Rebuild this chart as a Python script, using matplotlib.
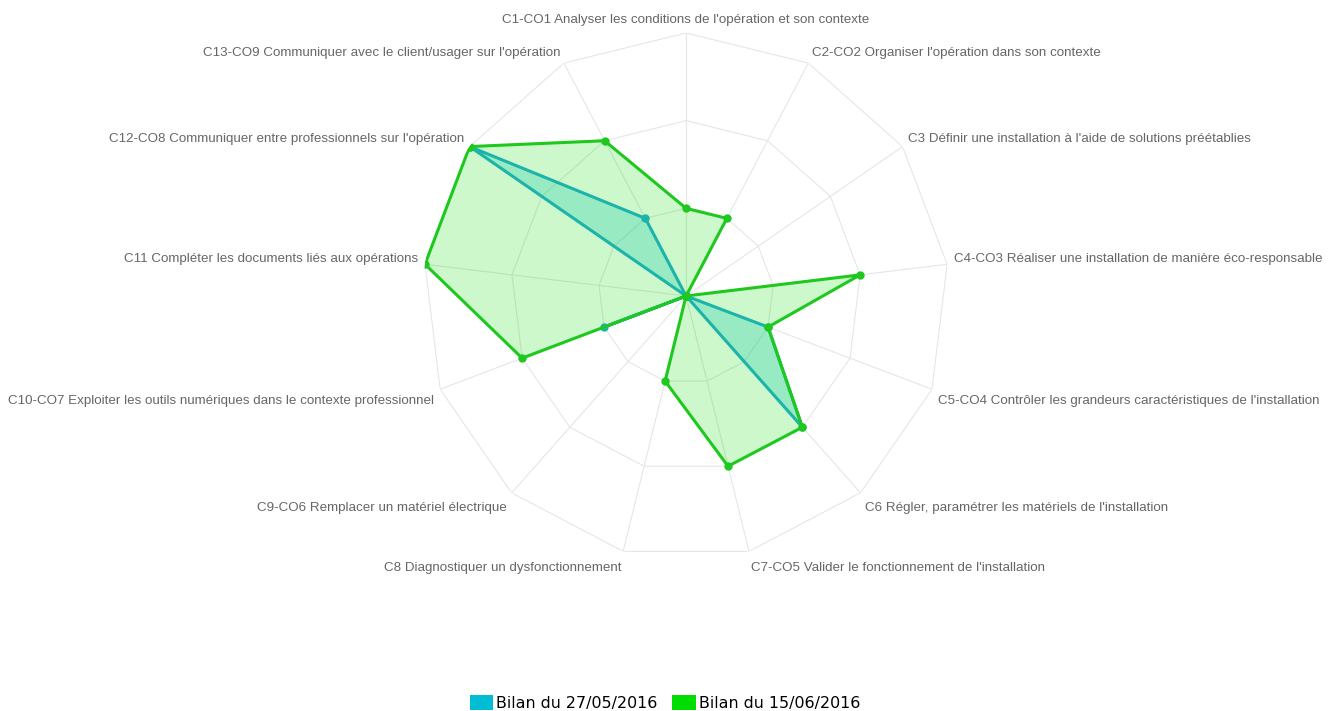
import numpy as np
import matplotlib
matplotlib.use("Agg")
import matplotlib.pyplot as plt
from matplotlib.patches import Patch

categories = [
    "C1-CO1 Analyser les conditions de l'opération et son contexte",
    "C2-CO2 Organiser l'opération dans son contexte",
    "C3 Définir une installation à l'aide de solutions préétablies",
    "C4-CO3 Réaliser une installation de manière éco-responsable",
    "C5-CO4 Contrôler les grandeurs caractéristiques de l'installation",
    "C6 Régler, paramétrer les matériels de l'installation",
    "C7-CO5 Valider le fonctionnement de l'installation",
    "C8 Diagnostiquer un dysfonctionnement",
    "C9-CO6 Remplacer un matériel électrique",
    "C10-CO7 Exploiter les outils numériques dans le contexte professionnel",
    "C11 Compléter les documents liés aux opérations",
    "C12-CO8 Communiquer entre professionnels sur l'opération",
    "C13-CO9 Communiquer avec le client/usager sur l'opération",
]
series_names = ["Bilan du 27/05/2016", "Bilan du 15/06/2016"]
bilan_2705 = [0, 0, 0, 0, 1, 2, 0, 0, 0, 1, 0, 3, 1]
bilan_1506 = [1, 1, 0, 2, 1, 2, 2, 1, 0, 2, 3, 3, 2]
rings = [1, 2, 3]

n = len(categories)
theta = 2 * np.pi * np.arange(n) / n
theta_closed = np.append(theta, theta[0])
rmax = rings[-1]

fig = plt.figure(figsize=(13.3, 7.11), dpi=100)
ax = fig.add_axes([0.3181, 0.2138, 0.3955, 0.7398], projection="polar")
ax.set_theta_offset(np.pi / 2)
ax.set_theta_direction(-1)
ax.set_ylim(0, rmax)
ax.grid(False)
ax.spines["polar"].set_visible(False)
ax.set_xticks([])
ax.set_yticks([])
ax.patch.set_alpha(0)

grid_color = "#e6e6e6"
for r in rings:
    ax.plot(theta_closed, [r] * (n + 1), color=grid_color, lw=0.8, zorder=1)
for t in theta:
    ax.plot([t, t], [0, rmax], color=grid_color, lw=0.8, zorder=1)

blue_line = "#1bb3aa"
blue_fill = "#00bcd4"
green_line = "#1ec81e"
green_fill = "#00dd00"

b = np.append(bilan_2705, bilan_2705[0])
g = np.append(bilan_1506, bilan_1506[0])

ax.fill(theta_closed, b, color=blue_fill, alpha=0.25, lw=0, zorder=2)
ax.fill(theta_closed, g, color=green_fill, alpha=0.2, lw=0, zorder=2)
ax.plot(theta_closed, b, color=blue_line, lw=2.2, zorder=3)
ax.plot(theta, bilan_2705, 'o', color=blue_line, ms=5, zorder=3)
ax.plot(theta_closed, g, color=green_line, lw=2.2, zorder=4)
ax.plot(theta, bilan_1506, 'o', color=green_line, ms=5, zorder=5)

pad_pt = 5.0
for t, lab in zip(theta, categories):
    deg = np.degrees(t) % 360
    if abs(deg) < 1e-6 or abs(deg - 180) < 1e-6:
        ha = "center"
    elif deg < 180:
        ha = "left"
    else:
        ha = "right"
    dx = pad_pt * np.sin(t)
    dy = pad_pt * np.cos(t)
    if deg < 90 or deg > 270:
        va = "bottom"
        if abs(deg) > 1e-6:
            dy -= 1.4
    else:
        va = "top"
        dy -= 2.6
    ax.annotate(lab, xy=(t, rmax), xytext=(dx, dy), textcoords="offset points",
                ha=ha, va=va, fontsize=9.6, color="#666666",
                family="Liberation Sans", zorder=6, annotation_clip=False)

handles = [Patch(facecolor=blue_fill, edgecolor="none"),
           Patch(facecolor=green_fill, edgecolor="none")]
fig.legend(handles, series_names, loc="lower center", bbox_to_anchor=(0.5, -0.02),
           ncol=2, frameon=False, handlelength=1.5, handleheight=1.0,
           handletextpad=0.2, columnspacing=0.9,
           prop={"family": "DejaVu Sans", "size": 11.4})

fig.savefig("out.png", dpi=100)
